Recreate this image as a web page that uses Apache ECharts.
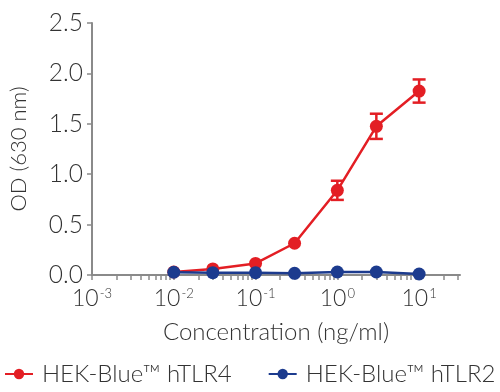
<!DOCTYPE html>
<html><head><meta charset="utf-8">
<script src="https://cdn.jsdelivr.net/npm/echarts@6/dist/echarts.min.js"></script>
<style>html,body{margin:0;padding:0;background:#fff}#c{width:500px;height:392px}</style>
</head><body><div id="c"></div>
<script>
const concentrations = [0.01, 0.03, 0.1, 0.3, 1, 3, 10];
const tlr4Values = [0.03, 0.06, 0.115, 0.315, 0.84, 1.475, 1.825];
const tlr4Errors = [0, 0, 0, 0, 0.095, 0.125, 0.115];
const tlr2Values = [0.027, 0.023, 0.023, 0.017, 0.03, 0.03, 0.01];
const xDecades = [-3, -2, -1, 0, 1];
const yTicks = [0, 0.5, 1.0, 1.5, 2.0, 2.5];
const seriesNames = ['HEK-Blue\u2122 hTLR4', 'HEK-Blue\u2122 hTLR2'];

const RED = '#e31e24', BLUE = '#1c3b8e', AXIS = '#8a8a8a', TXT = '#333';
const FONT = 'Lato';
const xMax = 1.5;
const minorTicks = [];
xDecades.forEach(d => { for (let k = 1; k <= 9; k++) { const v = d + Math.log10(k); if (v <= xMax + 1e-9) minorTicks.push(v); } });

const lg = v => Math.log10(v);
const tlr4Data = concentrations.map((c, i) => [lg(c), tlr4Values[i]]);
const tlr2Data = concentrations.map((c, i) => [lg(c), tlr2Values[i]]);
const errData = concentrations.map((c, i) => [lg(c), tlr4Values[i] - tlr4Errors[i], tlr4Values[i] + tlr4Errors[i]]).filter((d, i) => tlr4Errors[i] > 0);

const chart = echarts.init(document.getElementById('c'), null, {renderer: 'canvas'});
chart.setOption({
  animation: false,
  textStyle: {fontFamily: FONT},
  grid: {left: 81, top: 23, width: 379, height: 252, containLabel: false},
  legend: {
    top: 362, left: 4, right: 0, padding: 0, itemWidth: 28, itemHeight: 13, itemGap: 36,
    textStyle: {fontFamily: FONT, fontSize: 24, color: TXT, fontWeight: 300, padding: [0, 0, 0, 4]},
    data: seriesNames
  },
  xAxis: {
    type: 'value', min: -3, max: xMax, interval: 1,
    name: 'Concentration (ng/ml)', nameLocation: 'middle', nameGap: 45,
    nameTextStyle: {fontFamily: FONT, fontSize: 24, color: TXT, fontWeight: 300},
    axisLine: {onZero: false, lineStyle: {color: AXIS, width: 2}},
    axisTick: {show: true, length: 5, lineStyle: {color: AXIS, width: 1.5}, customValues: minorTicks},
    splitLine: {show: false},
    axisLabel: {
      customValues: xDecades, margin: 12,
      formatter: v => '{b|10}{s|' + v + '}',
      rich: {
        b: {fontFamily: FONT, fontSize: 23, color: TXT, fontWeight: 300},
        s: {fontFamily: FONT, fontSize: 13, color: TXT, fontWeight: 300, padding: [0, 0, 10, 1]}
      }
    }
  },
  yAxis: {
    type: 'value', min: 0, max: 2.5, interval: 0.5,
    name: 'OD (630 nm)', nameLocation: 'middle', nameGap: 62,
    nameTextStyle: {fontFamily: FONT, fontSize: 22, color: TXT, fontWeight: 300},
    axisLine: {show: true, onZero: false, lineStyle: {color: AXIS, width: 2}},
    axisTick: {show: true, length: 5, lineStyle: {color: AXIS, width: 1.5}},
    splitLine: {show: false},
    axisLabel: {
      customValues: yTicks, margin: 9,
      fontFamily: FONT, fontSize: 24.5, color: TXT, fontWeight: 300,
      formatter: v => v.toFixed(1)
    }
  },
  series: [
    {
      type: 'custom', name: 'err', silent: true, z: 2,
      data: errData,
      encode: {x: 0, y: [1, 2]},
      renderItem: (params, api) => {
        const x = api.value(0);
        const lo = api.coord([x, api.value(1)]);
        const hi = api.coord([x, api.value(2)]);
        const hw = 6.5;
        const st = {stroke: RED, lineWidth: 2.5};
        return {type: 'group', children: [
          {type: 'line', shape: {x1: lo[0], y1: lo[1], x2: hi[0], y2: hi[1]}, style: st},
          {type: 'line', shape: {x1: lo[0] - hw, y1: lo[1], x2: lo[0] + hw, y2: lo[1]}, style: st},
          {type: 'line', shape: {x1: hi[0] - hw, y1: hi[1], x2: hi[0] + hw, y2: hi[1]}, style: st}
        ]};
      }
    },
    {
      type: 'line', name: seriesNames[0], data: tlr4Data, z: 3,
      symbol: 'circle', symbolSize: 13, showAllSymbol: true,
      lineStyle: {color: RED, width: 2.5}, itemStyle: {color: RED}
    },
    {
      type: 'line', name: seriesNames[1], data: tlr2Data, z: 4,
      symbol: 'circle', symbolSize: 13, showAllSymbol: true,
      lineStyle: {color: BLUE, width: 2.5}, itemStyle: {color: BLUE}
    }
  ]
});
</script></body></html>
